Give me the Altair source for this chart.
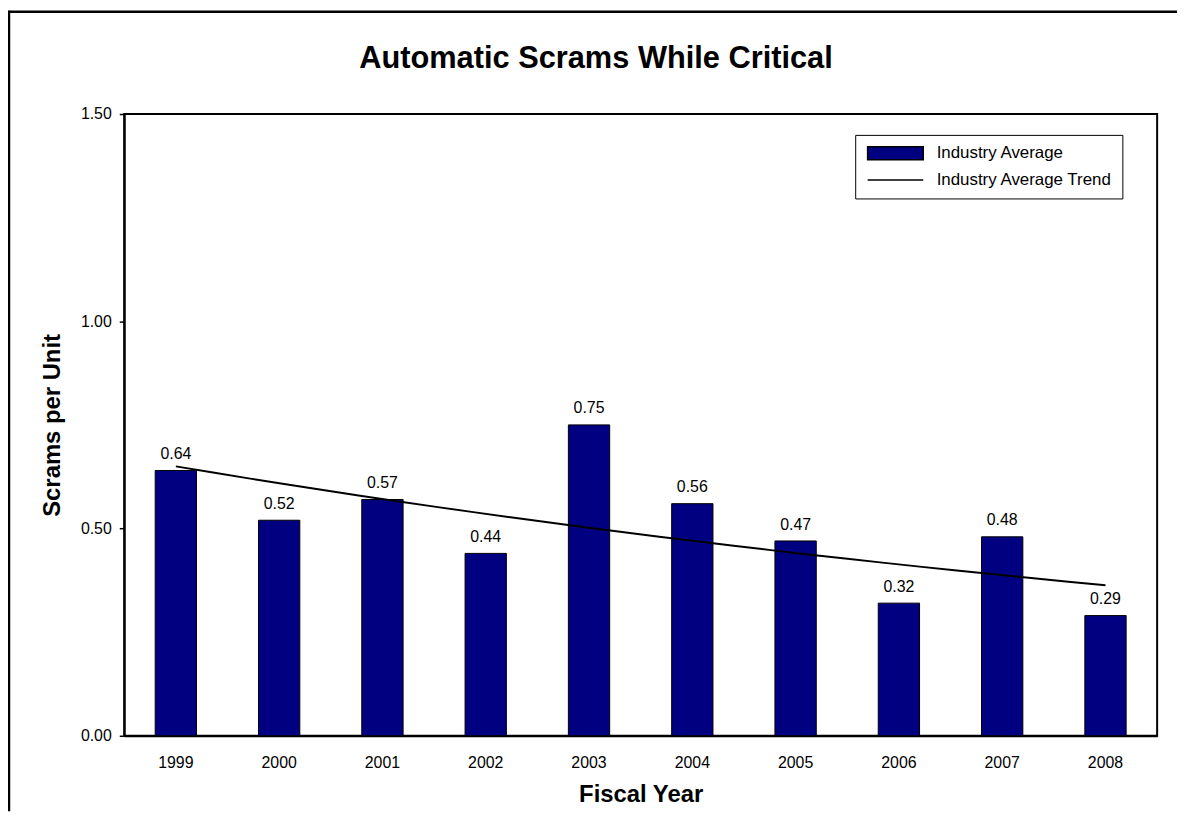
import altair as alt
import pandas as pd

# ---- data ----
years = ["1999", "2000", "2001", "2002", "2003", "2004", "2005", "2006", "2007", "2008"]
values = [0.64, 0.52, 0.57, 0.44, 0.75, 0.56, 0.47, 0.32, 0.48, 0.29]
series_names = ["Industry Average", "Industry Average Trend"]
y_ticks = [0.0, 0.5, 1.0, 1.5]

FONT = "Liberation Sans"
NAVY = "#000080"

df = pd.DataFrame({"year": years, "year_num": [int(y) for y in years], "value": values})
legend_df = pd.DataFrame({"series": series_names})

W, H = 1040, 626
PAD_L, PAD_T = 117, 104
TOTAL_W, TOTAL_H = 1177, 806

base = alt.Chart(df)

bars = base.mark_bar(color=NAVY, stroke="black", strokeWidth=1).encode(
    x=alt.X(
        "year:O",
        scale=alt.Scale(paddingInner=0.6, paddingOuter=0.3),
        axis=alt.Axis(
            title="Fiscal Year",
            labelAngle=0,
            ticks=False,
            tickSize=0,
            labelPadding=32,
            labelBaseline="alphabetic",
            titleBaseline="alphabetic",
            titleY=66,
            titleX=W / 2,
        ),
    ),
    y=alt.Y(
        "value:Q",
        scale=alt.Scale(domain=[0, 1.5], nice=False),
        axis=alt.Axis(
            title="Scrams per Unit",
            values=y_ticks,
            format=".2f",
            tickSize=5,
            tickWidth=1.5,
            tickColor="black",
            labelPadding=8,
            titleAngle=270,
            titleBaseline="alphabetic",
            titleX=-65.5,
            titleY=H / 2,
        ),
    ),
)

labels = base.mark_text(
    dy=-11.5, baseline="alphabetic", fontSize=16, font=FONT, color="black"
).encode(
    x=alt.X("year:O"),
    y=alt.Y("value:Q"),
    text=alt.Text("value:Q", format=".2f"),
)

bar_layer = alt.layer(bars, labels)

# exponential (log-linear) trend, fitted by Vega itself
trend = (
    base.transform_calculate(lny="log(datum.value)")
    .transform_regression("year_num", "lny", method="poly", order=1)
    .transform_calculate(trend="exp(datum.lny)")
    .mark_line(color="black", strokeWidth=2)
    .encode(
        x=alt.X(
            "year_num:Q",
            scale=alt.Scale(domain=[1998.5, 2008.5], nice=False, zero=False),
            axis=None,
        ),
        y=alt.Y("trend:Q"),
    )
)

rect_path = "M-4,-0.93H4V0.93H-4Z"
line_path = "M-4,0H4"
leg = alt.Legend(
    title=None,
    orient="none",
    legendX=736,
    legendY=21,
    strokeColor="black",
    fillColor="white",
    padding=10,
    labelFontSize=17,
    labelFont=FONT,
    labelColor="black",
    labelLimit=400,
    symbolSize=196,
    symbolOffset=22,
    labelOffset=33,
    rowPadding=7,
    symbolStrokeWidth=1.5,
)
legend_layer = (
    alt.Chart(legend_df)
    .transform_filter("false")
    .mark_point(filled=True, stroke="black", strokeWidth=1.5, opacity=1)
    .encode(
        shape=alt.Shape(
            "series:N",
            scale=alt.Scale(domain=series_names, range=[rect_path, line_path]),
            legend=leg,
        ),
        fill=alt.Fill(
            "series:N",
            scale=alt.Scale(domain=series_names, range=[NAVY, "transparent"]),
            legend=leg,
        ),
    )
)

one = alt.Chart(alt.Data(values=[{"k": 0}]))
border_top = one.mark_rule(color="black", strokeWidth=2.5).encode(
    x=alt.value(-PAD_L), x2=alt.value(TOTAL_W - PAD_L), y=alt.value(-PAD_T + 1)
)
border_left = one.mark_rule(color="black", strokeWidth=2.5).encode(
    x=alt.value(-PAD_L + 1), y=alt.value(-PAD_T), y2=alt.value(TOTAL_H - PAD_T)
)

chart = (
    alt.layer(bar_layer, trend, legend_layer, border_top, border_left)
    .resolve_scale(x="independent")
    .properties(
        width=W,
        height=H,
        padding={"left": PAD_L, "top": PAD_T, "right": TOTAL_W - PAD_L - W, "bottom": TOTAL_H - PAD_T - H},
        autosize=alt.AutoSizeParams(type="none"),
        title=alt.TitleParams(
            "Automatic Scrams While Critical",
            font=FONT,
            fontSize=31,
            fontWeight="bold",
            color="black",
            anchor="middle",
            frame="group",
            baseline="alphabetic",
            offset=-90,
            dx=-45,
        ),
    )
    .configure(font=FONT)
    .configure_view(stroke="black", strokeWidth=2)
    .configure_axis(
        labelFont=FONT,
        labelFontSize=16,
        labelColor="black",
        titleFont=FONT,
        titleFontSize=24,
        titleFontWeight="bold",
        titleColor="black",
        domainColor="black",
        domainWidth=2,
        grid=False,
    )
)

chart.save("out.html", embed_options={"renderer": "svg", "actions": False})
